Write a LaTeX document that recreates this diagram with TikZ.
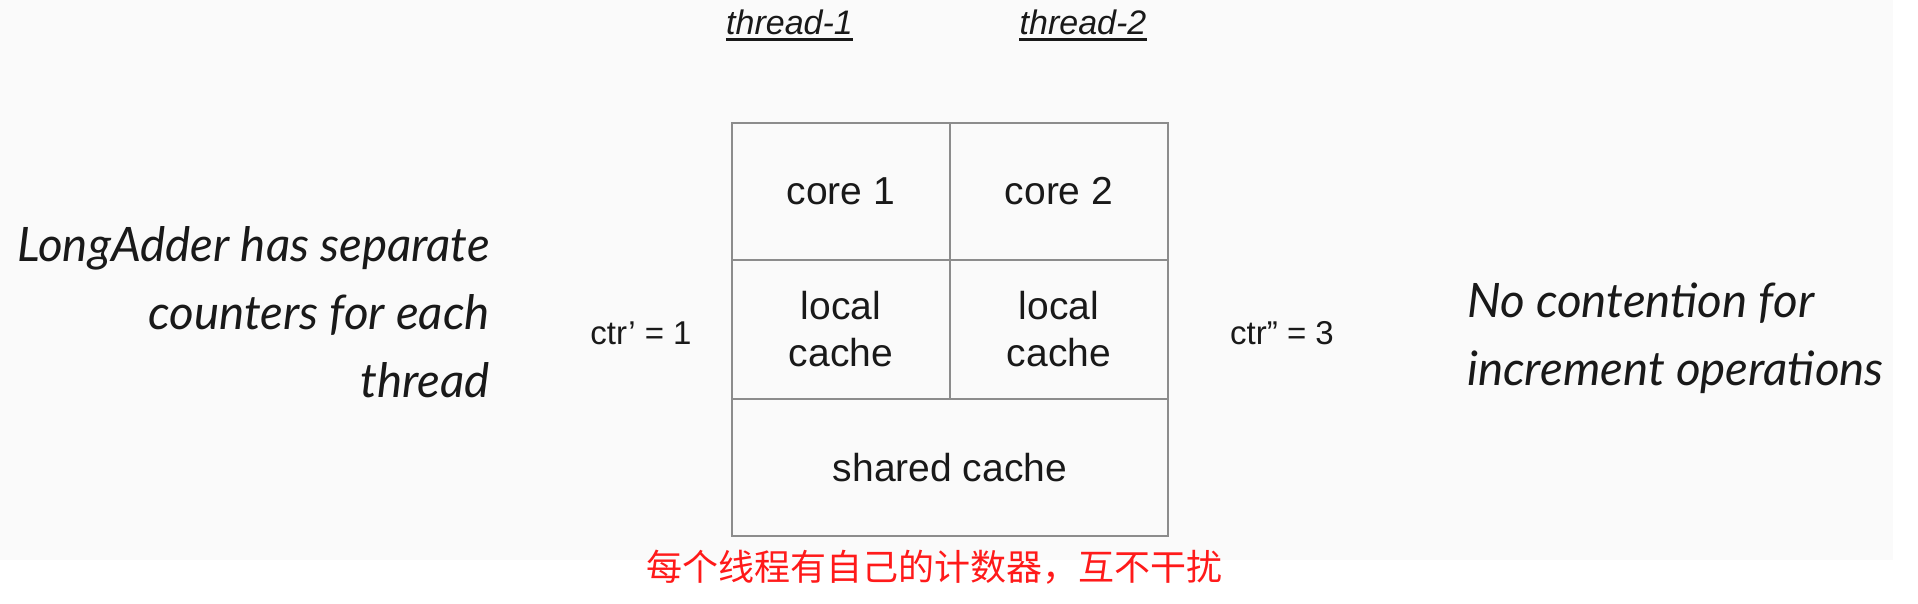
\documentclass[tikz,border=0pt]{standalone}
\usepackage{fontspec}
\setmainfont{Liberation Sans}
\newfontfamily\handfont{Lato}
\newfontfamily\cjkfont{Noto Sans CJK SC}
\definecolor{bgc}{HTML}{FAFAFA}
\definecolor{gridc}{HTML}{8C8C8C}
\definecolor{subred}{HTML}{FF1A1A}
\begin{document}
\begin{tikzpicture}[x=1pt,y=-1pt,
  cell/.style={draw=gridc, line width=2.5pt, inner sep=0pt, align=center,
    font=\fontsize{39}{47}\selectfont, text=black!90},
  threadlbl/.style={inner sep=0pt, anchor=base, font=\fontsize{34}{40}\selectfont\itshape, text=black!90},
  uline/.style={line width=2.5pt, black!90},
  ctrlbl/.style={inner sep=0pt, font=\fontsize{33}{38}\selectfont, text=black!90},
  hand/.style={inner sep=0pt, font=\fontsize{47.5}{68}\handfont\itshape, text=black!90}]
\useasboundingbox (0,0) rectangle (1918,604);
\fill[white] (0,0) rectangle (1918,604);
\fill[bgc] (0,0) rectangle (1893,560);
% grid
\node[cell, minimum width=218pt, minimum height=137pt] (core1) at (841,191.5) {core 1};
\node[cell, minimum width=218pt, minimum height=137pt] (core2) at (1059,191.5) {core 2};
\node[cell, minimum width=218pt, minimum height=139pt] (lc1) at (841,329.5) {local\\cache};
\node[cell, minimum width=218pt, minimum height=139pt] (lc2) at (1059,329.5) {local\\cache};
\node[cell, minimum width=436pt, minimum height=137pt] (shared) at (950,467.5) {shared cache};
% thread labels
\node[threadlbl] (t1) at (789.5,35) {thread-1};
\node[threadlbl] (t2) at (1083,35) {thread-2};
\draw[uline] ([yshift=-4.5pt]t1.base west) -- ([yshift=-4.5pt]t1.base east);
\draw[uline] ([yshift=-4.5pt]t2.base west) -- ([yshift=-4.5pt]t2.base east);
% counters
\node[ctrlbl] (c1) at (641,333) {ctr’ = 1};
\node[ctrlbl] (c2) at (1282,333) {ctr” = 3};
% handwritten notes
\node[hand, align=right, anchor=base east] (left) at (490,397) {LongAdder has separate\\counters for each\\thread};
\node[hand, align=left, anchor=base west] (right) at (1467,385) {No contention for\\increment operations};
% subtitle
\node[inner sep=0pt, text=subred, font=\fontsize{36}{40}\cjkfont] (sub) at (934,567) {每个线程有自己的计数器，互不干扰};
\end{tikzpicture}
\end{document}
